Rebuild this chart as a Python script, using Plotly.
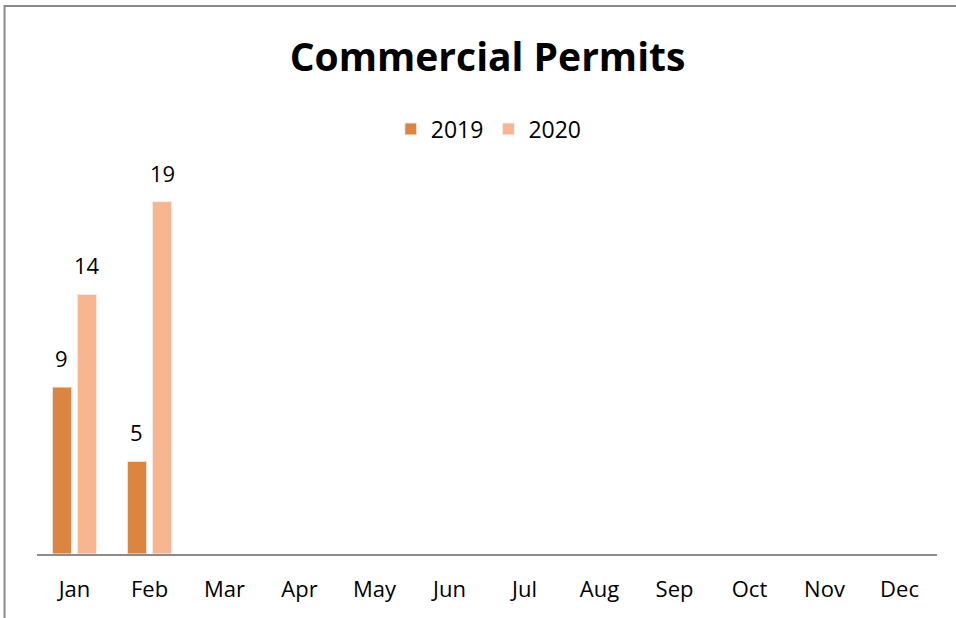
import plotly.graph_objects as go

months = ["Jan", "Feb", "Mar", "Apr", "May", "Jun", "Jul", "Aug", "Sep", "Oct", "Nov", "Dec"]
permits_2019 = [9, 5, None, None, None, None, None, None, None, None, None, None]
permits_2020 = [14, 19, None, None, None, None, None, None, None, None, None, None]

series = [("2019", permits_2019, "#DB8540"), ("2020", permits_2020, "#F8B690")]

FONT = "Open Sans"
W, H = 956, 618
ml, mr, mt, mb = 36.5, 18.5, 183, 64
bargap, bargroupgap = 0.334, 0.22

fig = go.Figure()
for name, vals, col in series:
    fig.add_trace(go.Bar(
        x=months, y=vals, name=name,
        marker=dict(color=col, line=dict(color="#F2F2F2", width=1)),
    ))

# data labels above bars
cat_w = (W - ml - mr) / len(months)
slot = (1 - bargap) * cat_w / len(series)
annotations = []
for i, (name, vals, col) in enumerate(series):
    xshift = (i - (len(series) - 1) / 2) * slot
    for m, v in zip(months, vals):
        if v is None:
            continue
        annotations.append(dict(
            x=m, y=v, text=str(v), showarrow=False, xshift=xshift,
            yanchor="bottom", yshift=12,
            font=dict(family=FONT, size=22, color="#000000"),
        ))

fig.update_layout(
    width=W, height=H,
    margin=dict(l=ml, r=mr, t=mt, b=mb),
    paper_bgcolor="white", plot_bgcolor="white",
    barmode="group", bargap=bargap, bargroupgap=bargroupgap,
    title=dict(text="<b>Commercial Permits</b>", x=0.51, xanchor="center",
               y=1 - 57 / H, yanchor="middle",
               font=dict(family=FONT, size=39, color="#000000")),
    legend=dict(orientation="h", x=0.502, xanchor="center", y=1 + (mt - 129) / (H - mt - mb),
                yanchor="middle", font=dict(family=FONT, size=23, color="#000000"),
                itemwidth=30, traceorder="normal"),
    xaxis=dict(showline=True, linecolor="#8C8C8C", linewidth=2, showgrid=False,
               ticks="", tickfont=dict(family=FONT, size=22, color="#000000"),
               fixedrange=True, ticklabelstandoff=15),
    yaxis=dict(range=[0, 20], visible=False, fixedrange=True),
    annotations=annotations,
    showlegend=True,
    shapes=[dict(type="rect", xref="paper", yref="paper",
                 x0=(4 - ml) / (W - ml - mr), x1=1.2,
                 y0=-0.3, y1=(H - mb - 6) / (H - mt - mb),
                 line=dict(color="#8A8A8A", width=2), fillcolor="rgba(0,0,0,0)", layer="below")],
)

fig.write_html("out.html", config={"displayModeBar": False},
               post_script="document.body.style.margin='0';document.body.style.overflow='hidden';")
